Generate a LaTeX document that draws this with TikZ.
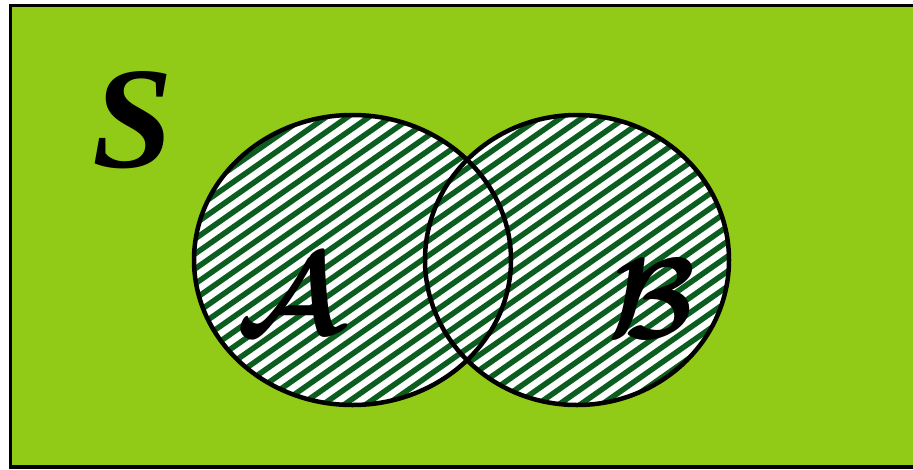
\documentclass[tikz,border=0pt]{standalone}
\usepackage{fontspec}
\usepackage{graphicx}
\usetikzlibrary{shapes.geometric}
\newfontfamily\sletter{Liberation Serif}
\definecolor{bggreen}{RGB}{145,203,24}
\definecolor{hatchgreen}{RGB}{12,94,32}
\tikzset{
  frame/.style={fill=bggreen, draw=black, line width=3.5pt},
  hatchline/.style={draw=hatchgreen, line width=5.5pt},
  setedge/.style={draw=black, line width=4.5pt},
  letter/.style={inner sep=0pt, anchor=center}
}
\begin{document}
\begin{tikzpicture}[x=1pt,y=-1pt]
\useasboundingbox (0,0) rectangle (913,469);
\clip (0,0) rectangle (913,469);
\path[frame] (10.5,5.5) rectangle (930,467);
\begin{scope}
  \clip (352.5,260) ellipse [x radius=158.5, y radius=145]
        (577,260) ellipse [x radius=152, y radius=145];
  \fill[white] (150,100) rectangle (760,420);
  \begin{scope}[shift={(465,260)}, rotate=35]
    \foreach \k in {-35,...,35}
      \draw[hatchline] (-450,\k*12.3) -- (450,\k*12.3);
  \end{scope}
\end{scope}
\node[setedge, ellipse, minimum width=317pt, minimum height=290pt, inner sep=0pt] (A) at (352.5,260) {};
\node[setedge, ellipse, minimum width=304pt, minimum height=290pt, inner sep=0pt] (B) at (577,260) {};
\node[letter] (S) at (133,120) {\fontsize{145}{145}\sletter\bfseries\itshape S};
\node[letter] (LA) at (289,295) {\scalebox{11.5}{\boldmath$\mathcal{A}$}};
\node[letter] (LB) at (652,299) {\scalebox{11.5}{\boldmath$\mathcal{B}$}};
\end{tikzpicture}
\end{document}
